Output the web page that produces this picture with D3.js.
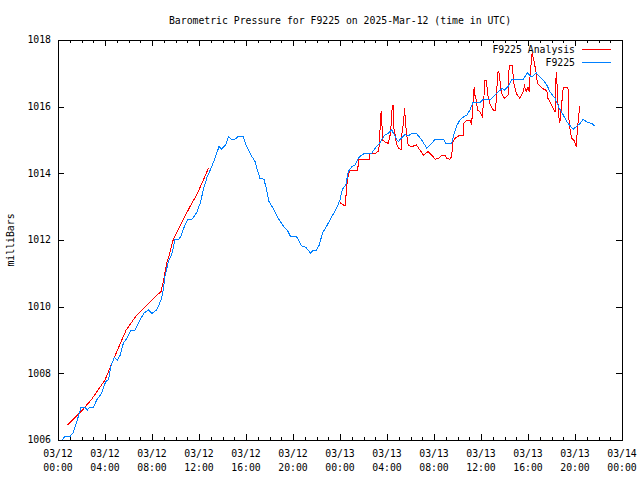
<!DOCTYPE html>
<html><head><meta charset="utf-8">
<script src="https://cdn.jsdelivr.net/npm/d3@7"></script>
<style>
body{margin:0;background:#fff;}
text{font-family:"DejaVu Sans Mono","Liberation Mono",monospace;font-size:9.8px;fill:#000;}
</style></head><body>
<svg id="c" width="640" height="480"></svg>
<script>
const title = "Barometric Pressure for F9225 on 2025-Mar-12 (time in UTC)";
const yLabel = "milliBars";
const seriesNames = ["F9225 Analysis", "F9225"];
const seriesColors = ["#ff0000", "#0080ff"];
const yTicks = [1006, 1008, 1010, 1012, 1014, 1016, 1018];
const startUTC = Date.UTC(2025, 2, 12, 0, 0);
const endUTC = Date.UTC(2025, 2, 14, 0, 0);

// F9225 observations: hours since 2025-03-12 00:00 UTC, pressure (mb)
const obsHours = [0.37,0.55,1.0,1.3,1.6,1.96,2.3,2.5,2.7,3.0,3.3,3.7,3.9,4.06,4.3,4.5,4.8,5.05,5.3,5.56,5.85,6.2,6.55,6.98,7.35,7.7,8.0,8.4,8.77,8.96,9.1,9.39,9.67,9.96,10.3,10.5,10.8,11.04,11.4,11.8,12.1,12.4,12.7,13.08,13.36,13.7,13.93,14.27,14.5,14.78,15.06,15.3,15.77,16.06,16.34,16.77,16.96,17.19,17.53,17.76,17.96,18.32,18.75,19.17,19.51,19.8,20.3,20.74,21.1,21.5,21.73,22.0,22.24,22.5,22.87,23.3,23.7,24.0,24.2,24.5,24.7,25.0,25.3,25.56,25.85,26.1,26.7,26.98,27.4,27.8,28.1,28.4,28.55,28.77,28.96,29.2,29.53,29.8,30.1,30.5,30.95,31.4,31.8,32.1,32.8,33.0,33.5,33.6,33.9,34.2,34.55,34.8,35.06,35.3,35.9,36.2,36.8,37.05,37.5,37.8,38.0,38.3,38.6,38.9,39.6,39.94,40.2,40.45,40.7,40.96,41.3,41.6,41.87,42.3,42.66,43.0,43.3,43.6,43.86,44.15,44.4,44.7,45.1,45.4,45.7];
const obsValues = [1006.0,1006.1,1006.1,1006.22,1006.55,1006.98,1006.98,1006.9,1006.98,1006.98,1007.2,1007.4,1007.6,1007.75,1007.82,1008.22,1008.48,1008.4,1008.55,1008.9,1009.05,1009.28,1009.3,1009.6,1009.82,1009.9,1009.8,1009.9,1010.2,1010.5,1010.9,1011.35,1011.55,1012.02,1012.02,1012.15,1012.45,1012.62,1012.62,1012.82,1013.1,1013.55,1013.9,1014.2,1014.45,1014.8,1014.73,1014.85,1015.1,1015.02,1015.02,1015.1,1015.1,1014.8,1014.6,1014.35,1014.1,1013.85,1013.82,1013.5,1013.15,1012.95,1012.65,1012.42,1012.3,1012.1,1012.1,1011.82,1011.78,1011.6,1011.7,1011.7,1011.85,1012.2,1012.42,1012.7,1012.95,1013.2,1013.52,1013.65,1014.05,1014.2,1014.25,1014.45,1014.55,1014.6,1014.6,1014.75,1014.92,1015.15,1015.2,1015.3,1015.2,1015.05,1014.95,1015.05,1015.17,1015.12,1015.2,1015.2,1015.0,1014.75,1014.9,1015.02,1015.02,1014.9,1014.9,1015.05,1015.4,1015.6,1015.7,1015.75,1015.9,1016.12,1016.12,1016.22,1016.22,1016.3,1016.45,1016.55,1016.5,1016.6,1016.8,1016.82,1016.82,1017.02,1016.92,1016.92,1017.02,1016.9,1016.8,1016.65,1016.45,1016.25,1015.95,1015.75,1015.55,1015.42,1015.32,1015.42,1015.48,1015.62,1015.52,1015.5,1015.42];

// F9225 Analysis: hours since start, pressure (mb); null = gap
const anaHours = [0.8,1.96,2.86,4.0,5.0,5.8,6.7,8.26,8.77,8.96,9.25,9.47,9.8,10.5,11.23,11.8,12.37,12.8,18.0,24.0,24.3,24.45,24.57,24.7,24.85,25.5,25.6,26.5,26.55,27.05,27.2,27.3,27.4,27.5,27.55,27.6,27.8,28.1,28.2,28.3,28.45,28.52,28.6,28.7,28.8,29.0,29.2,29.25,29.4,29.5,29.58,29.7,29.8,30.1,30.5,30.8,31.1,31.3,31.5,31.8,32.1,32.4,32.65,32.9,33.1,33.36,33.5,33.6,33.8,34.2,34.5,34.55,34.8,35.06,35.2,35.3,35.42,35.5,35.6,35.7,35.9,36.1,36.25,36.3,36.45,36.6,36.8,37.05,37.25,37.3,37.45,37.55,37.7,37.8,38.0,38.3,38.4,38.65,38.8,39.0,39.3,39.6,39.7,39.85,40.0,40.1,40.2,40.35,40.5,40.7,40.8,41.2,41.6,41.7,42.0,42.2,42.3,42.4,42.5,42.6,42.7,42.86,43.0,43.4,43.5,43.7,43.9,44.1,44.2,44.4];
const anaValues = [1006.44,1006.85,1007.22,1007.8,1008.65,1009.3,1009.75,1010.3,1010.45,1010.75,1011.3,1011.55,1012.0,1012.5,1013.0,1013.35,1013.8,1014.15,null,1013.12,1013.05,1013.05,1013.6,1013.95,1014.1,1014.1,1014.42,1014.42,1014.6,1014.6,1014.65,1014.65,1015.25,1015.85,1015.85,1015.0,1014.95,1014.9,1015.05,1015.2,1016.05,1016.05,1015.3,1015.15,1014.9,1014.75,1014.72,1015.15,1015.5,1015.95,1015.5,1015.1,1014.85,1014.8,1014.85,1014.7,1014.55,1014.6,1014.65,1014.55,1014.42,1014.45,1014.55,1014.55,1014.45,1014.42,1014.5,1014.95,1015.05,1015.15,1015.15,1015.5,1015.6,1015.6,1015.45,1016.0,1016.6,1016.3,1016.2,1015.9,1015.85,1015.72,1016.25,1016.8,1016.8,1016.3,1016.05,1015.9,1015.88,1016.3,1017.05,1017.0,1016.5,1016.35,1016.25,1016.35,1017.25,1017.25,1016.7,1016.4,1016.25,1016.45,1016.62,1016.45,1016.6,1016.45,1017.05,1017.6,1017.4,1017.0,1016.7,1016.55,1016.48,1016.25,1016.05,1015.9,1015.85,1017.05,1016.5,1015.75,1015.5,1016.05,1016.58,1016.58,1015.5,1015.05,1015.0,1014.8,1015.3,1016.02];

const svg = d3.select("#c");
const L = 58, R = 622, T = 40, B = 440;
const toDate = h => new Date(startUTC + h * 3600000);
const x = d3.scaleUtc().domain([new Date(startUTC), new Date(endUTC)]).range([L, R]);
const y = d3.scaleLinear().domain([1006, 1018]).range([B, T]);

// axes (gnuplot style: inward ticks, mirrored)
function clean(g){ g.select(".domain").remove(); g.selectAll("line").attr("stroke","#000").attr("shape-rendering","crispEdges"); g.selectAll("text").remove(); }
svg.append("g").attr("transform",`translate(0,${B})`).call(d3.axisBottom(x).ticks(d3.utcHour.every(1)).tickSizeInner(-3).tickSizeOuter(0)).call(clean);
svg.append("g").attr("transform",`translate(0,${B})`).call(d3.axisBottom(x).ticks(d3.utcHour.every(4)).tickSizeInner(-6).tickSizeOuter(0)).call(clean);
svg.append("g").attr("transform",`translate(0,${T})`).call(d3.axisTop(x).ticks(d3.utcHour.every(1)).tickSizeInner(-3).tickSizeOuter(0)).call(clean);
svg.append("g").attr("transform",`translate(0,${T})`).call(d3.axisTop(x).ticks(d3.utcHour.every(4)).tickSizeInner(-6).tickSizeOuter(0)).call(clean);
svg.append("g").attr("transform",`translate(${L},0)`).call(d3.axisLeft(y).tickValues(yTicks).tickSizeInner(-6).tickSizeOuter(0)).call(clean);
svg.append("g").attr("transform",`translate(${R},0)`).call(d3.axisRight(y).tickValues(yTicks).tickSizeInner(-6).tickSizeOuter(0)).call(clean);

svg.append("rect").attr("x",L+0.5).attr("y",T+0.5).attr("width",R-L).attr("height",B-T)
  .attr("fill","none").attr("stroke","#000").attr("shape-rendering","crispEdges");

// tick labels
const xt = x.ticks(d3.utcHour.every(4));
const fmtD = d3.utcFormat("%m/%d"), fmtT = d3.utcFormat("%H:%M");
svg.append("g").selectAll("text").data(xt).join("text")
  .attr("x", d => x(d)).attr("y", 457).attr("text-anchor","middle").text(d => fmtD(d));
svg.append("g").selectAll("text").data(xt).join("text")
  .attr("x", d => x(d)).attr("y", 471).attr("text-anchor","middle").text(d => fmtT(d));
svg.append("g").selectAll("text").data(yTicks).join("text")
  .attr("x", 51).attr("y", d => y(d)).attr("dy","0.35em").attr("text-anchor","end").text(d => d);

svg.append("text").attr("x",340).attr("y",24).attr("text-anchor","middle").text(title);
svg.append("text").attr("transform","translate(14,240) rotate(-90)").attr("text-anchor","middle").text(yLabel);

// lines
const obs = obsHours.map((h,i)=>({t:toDate(h), v:obsValues[i]}));
const ana = anaHours.map((h,i)=>({t:toDate(h), v:anaValues[i]}));
const line = d3.line().defined(d => d.v !== null).x(d => x(d.t)).y(d => y(d.v));
svg.append("path").datum(ana).attr("d", line).attr("fill","none").attr("stroke",seriesColors[0]).attr("stroke-width",1).attr("shape-rendering","crispEdges");
svg.append("path").datum(obs).attr("d", line).attr("fill","none").attr("stroke",seriesColors[1]).attr("stroke-width",1).attr("shape-rendering","crispEdges");

// legend
seriesNames.forEach((n,i) => {
  const ly = 50 + i*13;
  svg.append("text").attr("x",575).attr("y",ly).attr("dy","0.35em").attr("text-anchor","end").text(n);
  svg.append("line").attr("x1",582).attr("x2",611).attr("y1",ly-0.5).attr("y2",ly-0.5)
    .attr("stroke",seriesColors[i]).attr("shape-rendering","crispEdges");
});
</script></body></html>
